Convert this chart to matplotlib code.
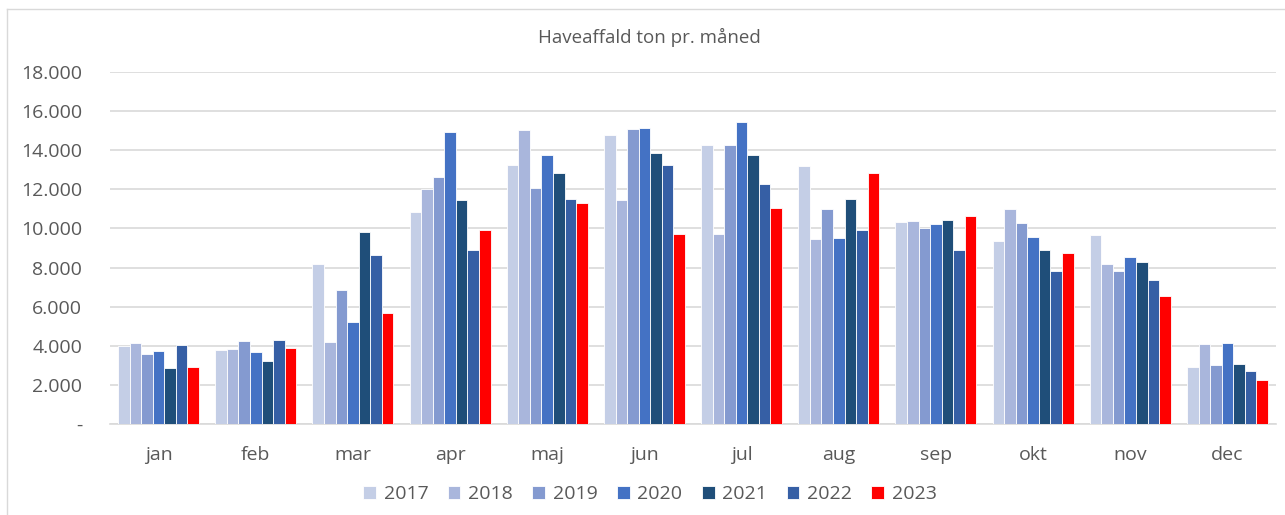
import numpy as np
import matplotlib.pyplot as plt
from matplotlib.ticker import FuncFormatter, MultipleLocator
from matplotlib.lines import Line2D

plt.rcParams['font.family'] = ['Open Sans', 'DejaVu Sans']

months = ['jan', 'feb', 'mar', 'apr', 'maj', 'jun', 'jul', 'aug', 'sep', 'okt', 'nov', 'dec']
years = ['2017', '2018', '2019', '2020', '2021', '2022', '2023']

# ton per month
y2017 = [3980, 3780, 8190, 10860, 13220, 14760, 14260, 13180, 10330, 9370, 9640, 2940]
y2018 = [4140, 3810, 4210, 12000, 15010, 11470, 9730, 9470, 10360, 10980, 8160, 4090]
y2019 = [3560, 4240, 6870, 12640, 12090, 15100, 14260, 11010, 10020, 10290, 7800, 3010]
y2020 = [3750, 3680, 5200, 14910, 13750, 15130, 15460, 9510, 10230, 9580, 8550, 4120]
y2021 = [2860, 3200, 9830, 11470, 12860, 13850, 13780, 11510, 10430, 8910, 8280, 3060]
y2022 = [4050, 4280, 8650, 8890, 11510, 13250, 12280, 9900, 8910, 7830, 7370, 2700]
y2023 = [2910, 3880, 5690, 9900, 11290, 9710, 11050, 12860, 10640, 8760, 6550, 2270]
series = [y2017, y2018, y2019, y2020, y2021, y2022, y2023]

colors = ['#C4CEE6', '#A9B6DC', '#849AD0', '#4472C4', '#1F4E79', '#365FA5', '#FF0000']
grey = '#595959'

fig = plt.figure(figsize=(12.85, 5.15), dpi=100)
ax = fig.add_axes([110 / 1285, 1 - 424 / 515, 1166 / 1285, 352 / 515])

x = np.arange(len(months))
w = 0.119
for i, vals in enumerate(series):
    ax.bar(x + (i - 3) * w, vals, w, color=colors[i], edgecolor='white',
           linewidth=0.6, label=years[i], zorder=3)

ax.set_xlim(-0.5, 11.5)
ax.set_ylim(0, 18000)
ax.yaxis.set_major_locator(MultipleLocator(2000))
ax.yaxis.set_major_formatter(FuncFormatter(
    lambda v, p: '-' if v == 0 else f'{int(v):,}'.replace(',', '.')))
ax.set_xticks(x)
ax.set_xticklabels(months)
ax.grid(axis='y', color='#D9D9D9', linewidth=1.2, zorder=0)
for s in ['top', 'right', 'left']:
    ax.spines[s].set_visible(False)
ax.spines['bottom'].set_color('#D9D9D9')
ax.spines['bottom'].set_linewidth(1.2)
ax.tick_params(axis='both', length=0, labelsize=14, colors=grey)
ax.tick_params(axis='y', pad=20)
ax.tick_params(axis='x', pad=16)

fig.text(649 / 1285, 1 - 37 / 515, 'Haveaffald ton pr. måned', ha='center', va='center',
         fontsize=13.5, color=grey)

fig.legend(loc='center', bbox_to_anchor=(650 / 1285, 1 - 494 / 515), ncol=7, frameon=False,
           fontsize=14, labelcolor=grey, handlelength=0.65, handleheight=0.65,
           handletextpad=0.4, columnspacing=1.0)

# chart frame
fig.add_artist(Line2D([7 / 1285, 7 / 1285], [0, 1 - 9 / 515], color='#D9D9D9', lw=1))
fig.add_artist(Line2D([7 / 1285, 1], [1 - 9 / 515, 1 - 9 / 515], color='#D9D9D9', lw=1))

fig.savefig('out.png', dpi=100)
